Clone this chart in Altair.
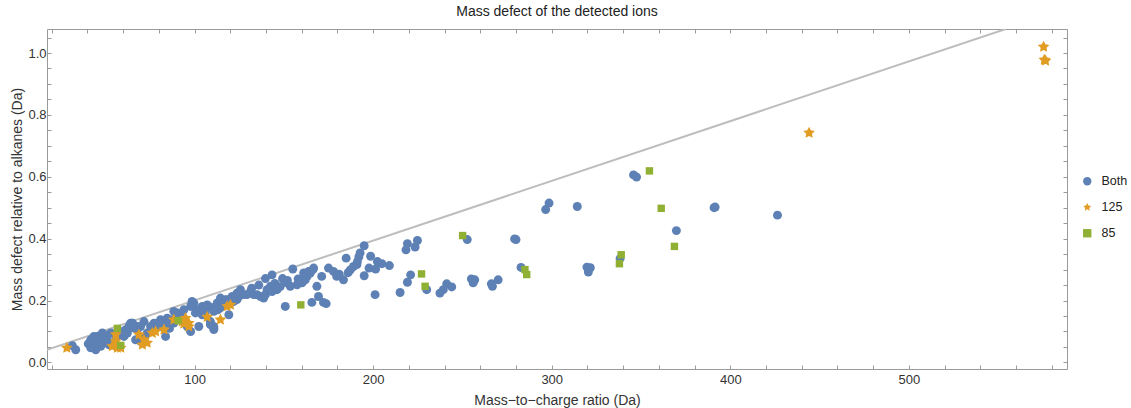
import altair as alt
import pandas as pd

# ---------------- data ----------------
series_names = ["Both", "125", "85"]
series_colors = ["#5E81B5", "#E19C24", "#8FB032"]

both_x = [31.6, 33.5, 41.9, 43.7, 45.6, 48.4, 41.9, 44.7, 47.5, 49.3, 46.5, 43.7, 40.5, 42.5, 46.0, 50.0, 49.0, 44.0,
          53.1, 51.2, 52.2, 60.5, 61.5, 63.3, 65.2, 62.4, 64.2, 66.1, 68.0, 69.8, 67.0, 69.8, 58.0, 60.0, 56.0,
          73.5, 75.4, 79.1, 80.9, 83.8, 84.6, 87.5, 90.3, 88.4, 71.7, 68.0, 65.2, 77.3, 81.0, 84.7, 87.5, 88.4,
          94.0, 97.8, 99.6, 95.9, 97.8, 98.6, 98.6, 92.0, 86.0, 76.0, 72.0,
          101.5, 104.3, 107.1, 109.9, 112.7, 114.5, 118.3, 120.1, 122.0, 123.8, 102.4, 108.9, 110.8, 110.8, 119.2,
          108.0, 110.8, 114.5, 117.3, 121.1, 123.8, 110.8, 108.9, 104.3, 110.8, 114.5, 105.2, 116.4, 119.2, 122.0,
          125.7, 124.8, 127.6, 129.4, 106.0, 113.0, 100.5,
          131.3, 133.1, 135.0, 136.9, 138.7, 139.7, 140.6, 142.5, 143.4, 146.2, 139.7, 143.4, 149.3, 151.8, 153.6,
          157.4, 161.1, 164.8, 166.3, 163.0, 155.0, 150.8, 160.2, 161.1, 162.0, 163.9, 166.7, 168.5, 169.4, 165.7,
          132.0, 136.0, 145.0, 148.0, 152.0, 158.0,
          171.2, 175.0, 177.8, 179.6, 183.4, 187.2, 189.0, 190.9, 172.2, 173.7, 184.9, 192.7, 192.0, 191.2, 195.0,
          198.6, 202.4, 204.9, 209.1, 197.7, 201.4, 195.0, 201.1, 215.1, 219.2, 221.0, 219.2, 218.4, 223.5, 224.8,
          181.0, 186.0,
          230.0, 237.4, 239.3, 241.2, 244.0, 252.7, 255.0, 256.9, 256.0, 266.2, 266.8, 270.0, 279.2, 280.0, 282.8,
          296.6, 298.5, 314.3, 319.7, 321.6, 320.5, 338.3, 345.8, 347.5, 369.8, 390.9, 391.5, 426.4]
both_y = [0.054, 0.041, 0.073, 0.084, 0.073, 0.095, 0.047, 0.041, 0.052, 0.063, 0.063, 0.057, 0.060, 0.065, 0.085, 0.088, 0.070, 0.050,
          0.095, 0.073, 0.057, 0.084, 0.106, 0.116, 0.127, 0.095, 0.127, 0.111, 0.106, 0.116, 0.073, 0.068, 0.090, 0.100, 0.080,
          0.095, 0.116, 0.127, 0.116, 0.084, 0.127, 0.132, 0.160, 0.127, 0.132, 0.116, 0.127, 0.127, 0.138, 0.143, 0.138, 0.165,
          0.170, 0.181, 0.192, 0.116, 0.100, 0.186, 0.197, 0.150, 0.110, 0.100, 0.080,
          0.170, 0.181, 0.186, 0.176, 0.192, 0.208, 0.203, 0.192, 0.197, 0.203, 0.116, 0.122, 0.111, 0.106, 0.154,
          0.181, 0.176, 0.192, 0.203, 0.213, 0.224, 0.116, 0.132, 0.154, 0.165, 0.176, 0.176, 0.192, 0.197, 0.203,
          0.235, 0.213, 0.219, 0.219, 0.160, 0.170, 0.160,
          0.229, 0.219, 0.219, 0.213, 0.208, 0.219, 0.235, 0.246, 0.229, 0.235, 0.271, 0.283, 0.271, 0.257, 0.246,
          0.251, 0.267, 0.289, 0.300, 0.278, 0.302, 0.181, 0.257, 0.289, 0.267, 0.294, 0.305, 0.246, 0.213, 0.194,
          0.240, 0.250, 0.255, 0.245, 0.265, 0.270,
          0.278, 0.305, 0.294, 0.278, 0.267, 0.299, 0.310, 0.316, 0.194, 0.190, 0.337, 0.354, 0.341, 0.326, 0.377,
          0.343, 0.326, 0.319, 0.313, 0.305, 0.302, 0.280, 0.219, 0.226, 0.259, 0.283, 0.384, 0.364, 0.373, 0.394,
          0.285, 0.290,
          0.235, 0.224, 0.235, 0.254, 0.244, 0.397, 0.270, 0.267, 0.257, 0.254, 0.246, 0.267, 0.399, 0.397, 0.307,
          0.494, 0.515, 0.504, 0.308, 0.306, 0.292, 0.336, 0.606, 0.599, 0.426, 0.500, 0.502, 0.476]

s125_x = [28.5, 53.9, 56.8, 55.9, 58.7, 55.9, 68.9, 71.7, 70.8, 73.5, 76.4, 78.2, 82.9, 88.4, 93.1, 95.0,
          96.8, 94.0, 96.8, 107.1, 114.5, 118.3, 120.1, 444.1, 575.4, 575.8, 576.5]
s125_y = [0.047, 0.052, 0.047, 0.068, 0.047, 0.090, 0.090, 0.073, 0.057, 0.063, 0.095, 0.100, 0.106, 0.138, 0.132, 0.143,
          0.127, 0.125, 0.116, 0.147, 0.138, 0.181, 0.186, 0.742, 1.020, 0.978, 0.975]

s85_x = [56.8, 58.7, 90.8, 159.5, 227.1, 229.1, 250.1, 285.0, 286.0, 337.9, 338.9, 354.7, 361.3, 368.7]
s85_y = [0.110, 0.055, 0.135, 0.186, 0.286, 0.246, 0.410, 0.300, 0.284, 0.319, 0.348, 0.619, 0.498, 0.375]

line_x = [17.4, 554.2]
line_y = [0.041, 1.0776]

x_domain = [17.4, 588.5]
y_domain = [-0.0213, 1.0776]
x_tick_values = [20, 40, 60, 80, 100, 120, 140, 160, 180, 200, 220, 240, 260, 280, 300, 320, 340, 360,
                 380, 400, 420, 440, 460, 480, 500, 520, 540, 560, 580]
y_tick_values = [0.0, 0.05, 0.1, 0.15, 0.2, 0.25, 0.3, 0.35, 0.4, 0.45, 0.5, 0.55, 0.6, 0.65, 0.7,
                 0.75, 0.8, 0.85, 0.9, 0.95, 1.0, 1.05]

# ---------------- tables ----------------
rows = []
for name, xs, ys in [("Both", both_x, both_y), ("125", s125_x, s125_y), ("85", s85_x, s85_y)]:
    for a, b in zip(xs, ys):
        rows.append({"mz": a, "md": b, "series": name})
pts = pd.DataFrame(rows)
line_df = pd.DataFrame({"x": line_x, "y": line_y})

FONT = "Liberation Sans"
FRAME = "#9a9a9a"
star = ("M0,-1L0.294,-0.405L0.951,-0.309L0.476,0.155L0.588,0.809L0,0.5"
        "L-0.588,0.809L-0.476,0.155L-0.951,-0.309L-0.294,-0.405Z")

xscale = alt.Scale(domain=x_domain, nice=False, zero=False)
yscale = alt.Scale(domain=y_domain, nice=False, zero=False)

line = alt.Chart(line_df).mark_line(color="#bdbdbd", strokeWidth=2, clip=True).encode(
    x=alt.X("x:Q", scale=xscale,
            axis=alt.Axis(orient="top", values=x_tick_values, labels=False, title=None,
                          tickSize={"expr": "-4"}, domain=False, grid=False, tickColor=FRAME)),
    y=alt.Y("y:Q", scale=yscale,
            axis=alt.Axis(orient="right", values=y_tick_values, labels=False, title=None,
                          tickSize={"expr": "-4"}, domain=False, grid=False, tickColor=FRAME)),
)

x_enc = alt.X("mz:Q", scale=xscale,
              axis=alt.Axis(orient="bottom", values=x_tick_values,
                            labelExpr="datum.value % 100 === 0 ? datum.label : ''",
                            title="Mass\u2212to\u2212charge ratio (Da)",
                            tickSize={"expr": "-4"}, labelPadding=8, titlePadding=7,
                            domain=False, grid=False, tickColor=FRAME))
y_enc = alt.Y("md:Q", scale=yscale,
              axis=alt.Axis(orient="left", values=y_tick_values, format=".1f",
                            labelExpr="abs(datum.value*10 % 2) < 0.001 || abs(datum.value*10 % 2 - 2) < 0.001 ? datum.label : ''",
                            title="Mass defect relative to alkanes (Da)",
                            tickSize={"expr": "-4"}, labelPadding=5, titlePadding=3,
                            domain=False, grid=False, tickColor=FRAME))
color_enc = alt.Color("series:N", scale=alt.Scale(domain=series_names, range=series_colors),
                      legend=alt.Legend(title=None, orient="none", legendX=1034, legendY=146,
                                        symbolSize=70, rowPadding=13, labelOffset=8,
                                        labelFontSize=12.5, labelFont=FONT, labelColor="#222",
                                        padding=0))
shape_enc = alt.Shape("series:N", scale=alt.Scale(domain=series_names, range=["circle", star, "square"]))

marks = []
for name, sz in [("Both", 80), ("125", 150), ("85", 55)]:
    marks.append(
        alt.Chart(pts).transform_filter(alt.datum.series == name)
        .mark_point(filled=True, opacity=1, strokeWidth=0, size=sz)
        .encode(x=x_enc, y=y_enc, color=color_enc, shape=shape_enc)
    )
points = alt.layer(*marks)

chart = alt.layer(line, points).resolve_scale(x="independent", y="independent").properties(
    width=1020, height=340,
    padding={"left": 47, "top": 29, "right": 64, "bottom": 39},
    autosize=alt.AutoSizeParams(type="none"),
    title=alt.TitleParams("Mass defect of the detected ions", anchor="middle", fontSize=14,
                          font=FONT, fontWeight="normal", color="#222", offset=10),
).configure_view(stroke=FRAME, strokeWidth=1).configure_axis(
    labelFont=FONT, labelFontSize=13, labelColor="#333",
    titleFont=FONT, titleFontSize=14, titleColor="#333", titleFontWeight="normal",
    tickWidth=1,
)

chart.save("out.html", embed_options={"renderer": "svg", "actions": False})
